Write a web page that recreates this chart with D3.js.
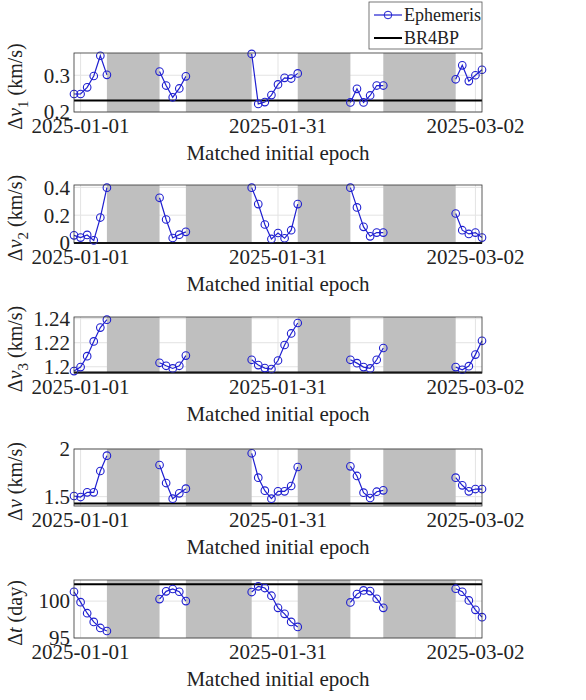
<!DOCTYPE html>
<html><head><meta charset="utf-8">
<script src="https://cdn.jsdelivr.net/npm/d3@7"></script>
<style>body{margin:0;background:#fff}svg text{font-family:'Liberation Serif','DejaVu Serif',serif;fill:#222}</style>
</head><body><svg id="c" width="586" height="700"></svg>
<script>
// day offsets from 2025-01-01 for each contiguous group of epochs
const groupStarts = [-1, 12, 26, 41, 57]
const shades = [[4, 12], [16, 26], [33, 41], [46, 57]]
const xTicks = [0, 30, 60]
const xTickLabels = ["2025-01-01", "2025-01-31", "2025-03-02"]

const dv1 = [[0.249,0.249,0.267,0.298,0.353,0.301],[0.310,0.272,0.240,0.264,0.297],
  [0.358,0.222,0.227,0.246,0.275,0.293,0.291,0.305],[0.226,0.263,0.226,0.245,0.272,0.272],[0.289,0.327,0.284,0.300,0.315]]
const dv2 = [[0.055,0.039,0.058,0.019,0.183,0.398],[0.325,0.169,0.036,0.060,0.080],
  [0.398,0.280,0.133,0.029,0.072,0.034,0.092,0.280],[0.398,0.256,0.116,0.048,0.075,0.075],[0.212,0.092,0.065,0.075,0.039]]
const dv3 = [[1.1964,1.1997,1.2088,1.2211,1.2326,1.2392],[1.2033,1.2008,1.1986,1.2008,1.2093],
  [1.2058,1.2014,1.1989,1.1981,1.2052,1.2181,1.2277,1.2364],[1.2058,1.2030,1.1997,1.1986,1.2058,1.2156],[1.1997,1.1975,1.2005,1.2101,1.2216]]
const dvTot = [[1.507,1.496,1.545,1.545,1.769,1.930],[1.832,1.643,1.479,1.535,1.584],
  [1.955,1.699,1.563,1.479,1.556,1.556,1.612,1.811],[1.818,1.717,1.542,1.486,1.552,1.566],[1.699,1.619,1.556,1.580,1.580]]
const dt = [[101.27,99.86,98.36,97.18,96.36,95.95],[100.27,101.32,101.64,101.27,100.0],
  [101.23,102.0,101.77,100.73,99.09,98.27,97.18,96.5],[99.82,100.95,101.45,101.36,100.32,99.09],[101.68,101.27,100.09,98.82,97.82]]

const panels = [
  {data: dv1, ref: 0.231, domain: [0.2, 0.3605], ticks: [0.2, 0.3], fmt: d3.format(".1f"), sym: "v", sub: "1", unit: " (km/s)", top: 53, h: 59},
  {data: dv2, ref: 0.0, domain: [0, 0.417], ticks: [0, 0.2, 0.4], fmt: d => d === 0 ? "0" : d3.format(".1f")(d), sym: "v", sub: "2", unit: " (km/s)", top: 185, h: 58},
  {data: dv3, ref: 1.1953, domain: [1.1948, 1.2414], ticks: [1.2, 1.22, 1.24], fmt: d => d === 1.2 ? "1.2" : d3.format(".2f")(d), sym: "v", sub: "3", unit: " (km/s)", top: 317, h: 56},
  {data: dvTot, ref: 1.427, domain: [1.402, 2.0], ticks: [1.5, 2], fmt: d => String(d), sym: "v", sub: null, unit: " (km/s)", top: 449, h: 57},
  {data: dt, ref: 102.27, domain: [95, 102.86], ticks: [95, 100], fmt: d => String(d), sym: "t", sub: null, unit: " (day)", top: 580, h: 58}
]

const left = 74, right = 482
const svg = d3.select("#c")
const x = d3.scaleLinear().domain([-1, 61]).range([left, right])

panels.forEach(p => {
  const y = d3.scaleLinear().domain(p.domain).range([p.top + p.h, p.top])
  const g = svg.append("g")
  const bottom = p.top + p.h

  // grid
  g.selectAll(".gy").data(p.ticks).join("line")
    .attr("x1", left).attr("x2", right).attr("y1", d => y(d)).attr("y2", d => y(d))
    .attr("stroke", "#e3e3e3")
  g.selectAll(".gx").data(xTicks).join("line")
    .attr("x1", d => x(d)).attr("x2", d => x(d)).attr("y1", p.top).attr("y2", bottom)
    .attr("stroke", "#e3e3e3")

  g.selectAll(".shade").data(shades).join("rect")
    .attr("x", d => x(d[0])).attr("width", d => x(d[1]) - x(d[0]))
    .attr("y", p.top).attr("height", p.h).attr("fill", "#bfbfbf")

  g.append("line").attr("x1", left).attr("x2", right)
    .attr("y1", y(p.ref)).attr("y2", y(p.ref)).attr("stroke", "#000").attr("stroke-width", 2)

  const line = d3.line().x(d => x(d.t)).y(d => y(d.v))
  p.data.forEach((grp, gi) => {
    const pts = grp.map((v, i) => ({t: groupStarts[gi] + i, v}))
    g.append("path").attr("d", line(pts)).attr("fill", "none").attr("stroke", "#2020d0").attr("stroke-width", 1.2)
    g.selectAll(null).data(pts).join("circle")
      .attr("cx", d => x(d.t)).attr("cy", d => y(d.v)).attr("r", 3.8)
      .attr("fill", "none").attr("stroke", "#2020d0").attr("stroke-width", 1.1)
  })

  g.append("rect").attr("x", left).attr("y", p.top).attr("width", right - left).attr("height", p.h)
    .attr("fill", "none").attr("stroke", "#333").attr("stroke-width", 0.8)

  // ticks
  g.selectAll(".yt").data(p.ticks).join("text")
    .attr("x", left - 4).attr("y", d => y(d)).attr("dy", "0.35em")
    .attr("text-anchor", "end").attr("font-size", 21).text(p.fmt)
  g.selectAll(".xt").data(xTicks).join("text")
    .attr("x", d => x(d)).attr("y", bottom + 21)
    .attr("text-anchor", "middle").attr("font-size", 21).text((d, i) => xTickLabels[i])
  g.append("text").attr("x", (left + right) / 2).attr("y", bottom + 48)
    .attr("text-anchor", "middle").attr("font-size", 21).text("Matched initial epoch")

  const yl = g.append("text").attr("transform", `translate(22,${p.top + p.h / 2 + 4}) rotate(-90)`)
    .attr("text-anchor", "middle").attr("font-size", 20)
  yl.append("tspan").text("Δ")
  yl.append("tspan").attr("font-style", "italic").text(p.sym)
  if (p.sub) yl.append("tspan").attr("font-size", 15).attr("dy", 6).text(p.sub)
  yl.append("tspan").attr("dy", p.sub ? -6 : 0).text(p.unit)
})

// legend
const lg = svg.append("g")
lg.append("rect").attr("x", 369).attr("y", 2).attr("width", 113).attr("height", 47)
  .attr("fill", "#fff").attr("stroke", "#555").attr("stroke-width", 0.8)
lg.append("line").attr("x1", 374).attr("x2", 402).attr("y1", 15).attr("y2", 15).attr("stroke", "#2020d0").attr("stroke-width", 1.2)
lg.append("circle").attr("cx", 388).attr("cy", 15).attr("r", 3.8).attr("fill", "none").attr("stroke", "#2020d0")
lg.append("text").attr("x", 404).attr("y", 21).attr("font-size", 18).text("Ephemeris")
lg.append("line").attr("x1", 374).attr("x2", 402).attr("y1", 38).attr("y2", 38).attr("stroke", "#000").attr("stroke-width", 2)
lg.append("text").attr("x", 404).attr("y", 44).attr("font-size", 18).text("BR4BP")
</script></body></html>
